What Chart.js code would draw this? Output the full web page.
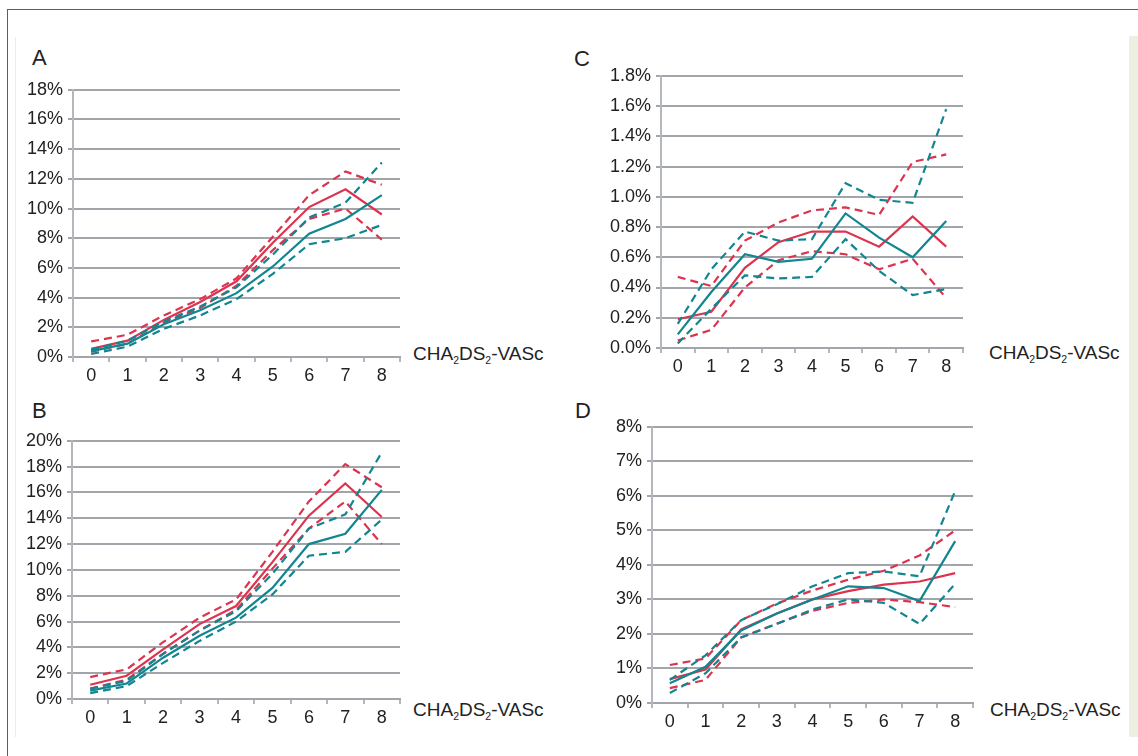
<!DOCTYPE html>
<html>
<head>
<meta charset="utf-8">
<script src="https://cdn.jsdelivr.net/npm/chart.js@4"></script>
<style>
    body { margin: 0; background: #fff; font-family: 'Liberation Sans', Arial, sans-serif; }
    #page { position: relative; width: 1138px; height: 756px; overflow: hidden; }
    .frame-top  { position: absolute; left: 7px; top: 9px; width: 1131px; height: 1px; background: #e0203f; }
    .frame-left { position: absolute; left: 7px; top: 9px; width: 1px; height: 747px; background: #e0203f; }
    .inner-left { position: absolute; left: 15px; top: 37px; width: 1px; height: 700px; background: #ececec; }
    .inner-right{ position: absolute; left: 1129px; top: 36px; width: 9px; height: 701px; background: #efeee2; }
    .panel { position: absolute; }
    .letter { position: absolute; font-size: 22px; line-height: 1; color: #222; }
    .xtitle { position: absolute; font-size: 19px; line-height: 1; color: #222; white-space: nowrap; }
    .xtitle sub { font-size: 55%; vertical-align: -0.35em; line-height: 0; }
</style>
</head>
<body>
<div id="page">
    <div class="frame-top"></div>
    <div class="frame-left"></div>
    <div class="inner-left"></div>
    <div class="inner-right"></div>

    <div class="letter" style="left:32px; top:47px;">A</div>
    <div class="letter" style="left:32px; top:400px;">B</div>
    <div class="letter" style="left:574px; top:48px;">C</div>
    <div class="letter" style="left:575px; top:400px;">D</div>

    <div class="xtitle" style="left:413px; top:344px;">CHA<sub>2</sub>DS<sub>2</sub>-VASc</div>
    <div class="xtitle" style="left:413px; top:700px;">CHA<sub>2</sub>DS<sub>2</sub>-VASc</div>
    <div class="xtitle" style="left:989px; top:343px;">CHA<sub>2</sub>DS<sub>2</sub>-VASc</div>
    <div class="xtitle" style="left:990px; top:700px;">CHA<sub>2</sub>DS<sub>2</sub>-VASc</div>

    <div class="panel" id="boxA"><canvas id="chartA"></canvas></div>
    <div class="panel" id="boxB"><canvas id="chartB"></canvas></div>
    <div class="panel" id="boxC"><canvas id="chartC"></canvas></div>
    <div class="panel" id="boxD"><canvas id="chartD"></canvas></div>
</div>

<script>
// x categories (CHA2DS2-VASc score)
const scores = ['0', '1', '2', '3', '4', '5', '6', '7', '8'];

// Panel A (%)
const aRed      = [0.55, 1.1, 2.5, 3.7, 5.1, 7.7, 10.1, 11.3, 9.6];
const aRedHi    = [1.05, 1.5, 2.8, 3.9, 5.3, 8.1, 10.9, 12.5, 11.6];
const aRedLo    = [0.35, 0.9, 2.3, 3.3, 4.8, 7.2, 9.3, 10.0, 7.9];
const aTeal     = [0.4, 0.9, 2.2, 3.15, 4.3, 6.1, 8.3, 9.3, 10.9];
const aTealHi   = [0.5, 1.1, 2.4, 3.4, 4.7, 6.9, 9.4, 10.4, 13.1];
const aTealLo   = [0.2, 0.7, 1.9, 2.8, 3.9, 5.6, 7.6, 8.0, 8.9];

// Panel B (%)
const bRed      = [1.1, 1.8, 3.85, 5.8, 7.2, 10.6, 14.2, 16.7, 14.1];
const bRedHi    = [1.7, 2.3, 4.4, 6.3, 7.7, 11.4, 15.3, 18.2, 16.4];
const bRedLo    = [0.8, 1.5, 3.5, 5.3, 6.9, 10.1, 13.2, 15.3, 12.0];
const bTeal     = [0.65, 1.2, 3.2, 4.9, 6.3, 8.6, 12.0, 12.8, 16.2];
const bTealHi   = [0.8, 1.4, 3.5, 5.3, 6.8, 9.7, 13.2, 14.3, 19.1];
const bTealLo   = [0.45, 1.0, 2.8, 4.5, 6.0, 8.1, 11.1, 11.4, 13.9];

// Panel C (%)
const cRed      = [0.19, 0.24, 0.53, 0.70, 0.77, 0.77, 0.67, 0.87, 0.67];
const cRedHi    = [0.47, 0.41, 0.71, 0.83, 0.91, 0.93, 0.88, 1.23, 1.28];
const cRedLo    = [0.05, 0.12, 0.40, 0.58, 0.64, 0.62, 0.52, 0.59, 0.33];
const cTeal     = [0.09, 0.37, 0.62, 0.57, 0.59, 0.89, 0.73, 0.60, 0.84];
const cTealHi   = [0.16, 0.52, 0.77, 0.71, 0.72, 1.09, 0.98, 0.96, 1.58];
const cTealLo   = [0.03, 0.26, 0.48, 0.46, 0.47, 0.72, 0.51, 0.35, 0.39];

// Panel D (%)
const dRed      = [0.69, 0.97, 2.13, 2.59, 3.0, 3.24, 3.43, 3.52, 3.76];
const dRedHi    = [1.1, 1.29, 2.4, 2.88, 3.26, 3.57, 3.83, 4.27, 5.0];
const dRedLo    = [0.43, 0.67, 1.9, 2.3, 2.67, 2.9, 3.0, 2.92, 2.78];
const dTeal     = [0.57, 1.05, 2.1, 2.59, 3.0, 3.38, 3.33, 2.95, 4.69];
const dTealHi   = [0.67, 1.38, 2.4, 2.86, 3.38, 3.76, 3.81, 3.67, 6.14];
const dTealLo   = [0.29, 0.86, 1.9, 2.29, 2.71, 3.0, 2.9, 2.29, 3.45];

// colours
const RED   = '#dc344f';
const TEAL  = '#118690';
const GRID  = '#a2a6aa';
const AXIS  = '#b4b8bc';
const FONT  = { family: "'Liberation Sans', Arial, sans-serif", size: 18 };

// fixed sizes inside each canvas
const Y_AXIS_W = 62;
const X_AXIS_H = 30;
const PAD_TOP  = 12;
const PAD_RIGHT = 4;

function line(data, color, dashed) {
    return {
        data: data,
        borderColor: color,
        borderWidth: 2.2,
        borderDash: dashed ? [8, 5] : [],
        pointRadius: 0,
        tension: 0,
        fill: false
    };
}

// plot: pixel box of the plotting area on the page
function makeChart(name, plot, yMax, yStep, digits, red, redHi, redLo, teal, tealHi, tealLo) {
    const box = document.getElementById('box' + name);
    const canvas = document.getElementById('chart' + name);
    const left = plot.left - Y_AXIS_W;
    const top  = plot.top - PAD_TOP;
    const w = plot.right - left + PAD_RIGHT;
    const h = plot.bottom - top + X_AXIS_H;
    box.style.left = left + 'px';
    box.style.top  = top + 'px';
    canvas.width  = w;
    canvas.height = h;

    new Chart(canvas.getContext('2d'), {
        type: 'line',
        data: {
            labels: scores,
            datasets: [
                line(tealHi, TEAL, true),
                line(tealLo, TEAL, true),
                line(teal, TEAL, false),
                line(redHi, RED, true),
                line(redLo, RED, true),
                line(red, RED, false)
            ]
        },
        options: {
            responsive: false,
            animation: false,
            layout: { padding: { top: PAD_TOP, right: PAD_RIGHT, left: 0, bottom: 0 } },
            plugins: {
                legend: { display: false },
                tooltip: { enabled: false }
            },
            scales: {
                x: {
                    offset: true,
                    grid: {
                        offset: true,
                        drawOnChartArea: false,
                        drawTicks: true,
                        tickLength: 5,
                        color: AXIS,
                        lineWidth: 2
                    },
                    border: { display: true, color: GRID, width: 2 },
                    ticks: { color: '#222', font: FONT, padding: 3, maxRotation: 0, autoSkip: false },
                    afterFit: function(s) { s.height = X_AXIS_H; }
                },
                y: {
                    min: 0,
                    max: yMax,
                    grid: { color: GRID, lineWidth: 2, tickLength: 5 },
                    border: { display: true, color: AXIS, width: 2 },
                    ticks: {
                        stepSize: yStep,
                        color: '#222',
                        font: FONT,
                        padding: 5,
                        callback: function(v) { return v.toFixed(digits) + '%'; }
                    },
                    afterFit: function(s) { s.width = Y_AXIS_W; }
                }
            }
        }
    });
}

makeChart('A', { left: 73,  top: 86,  right: 400, bottom: 357 }, 18, 2, 0, aRed, aRedHi, aRedLo, aTeal, aTealHi, aTealLo);
makeChart('B', { left: 72,  top: 437, right: 400, bottom: 699 }, 20, 2, 0, bRed, bRedHi, bRedLo, bTeal, bTealHi, bTealLo);
makeChart('C', { left: 661, top: 72,  right: 963, bottom: 348 }, 1.8, 0.2, 1, cRed, cRedHi, cRedLo, cTeal, cTealHi, cTealLo);
makeChart('D', { left: 652, top: 423, right: 973, bottom: 703 }, 8, 1, 0, dRed, dRedHi, dRedLo, dTeal, dTealHi, dTealLo);
</script>
</body>
</html>
